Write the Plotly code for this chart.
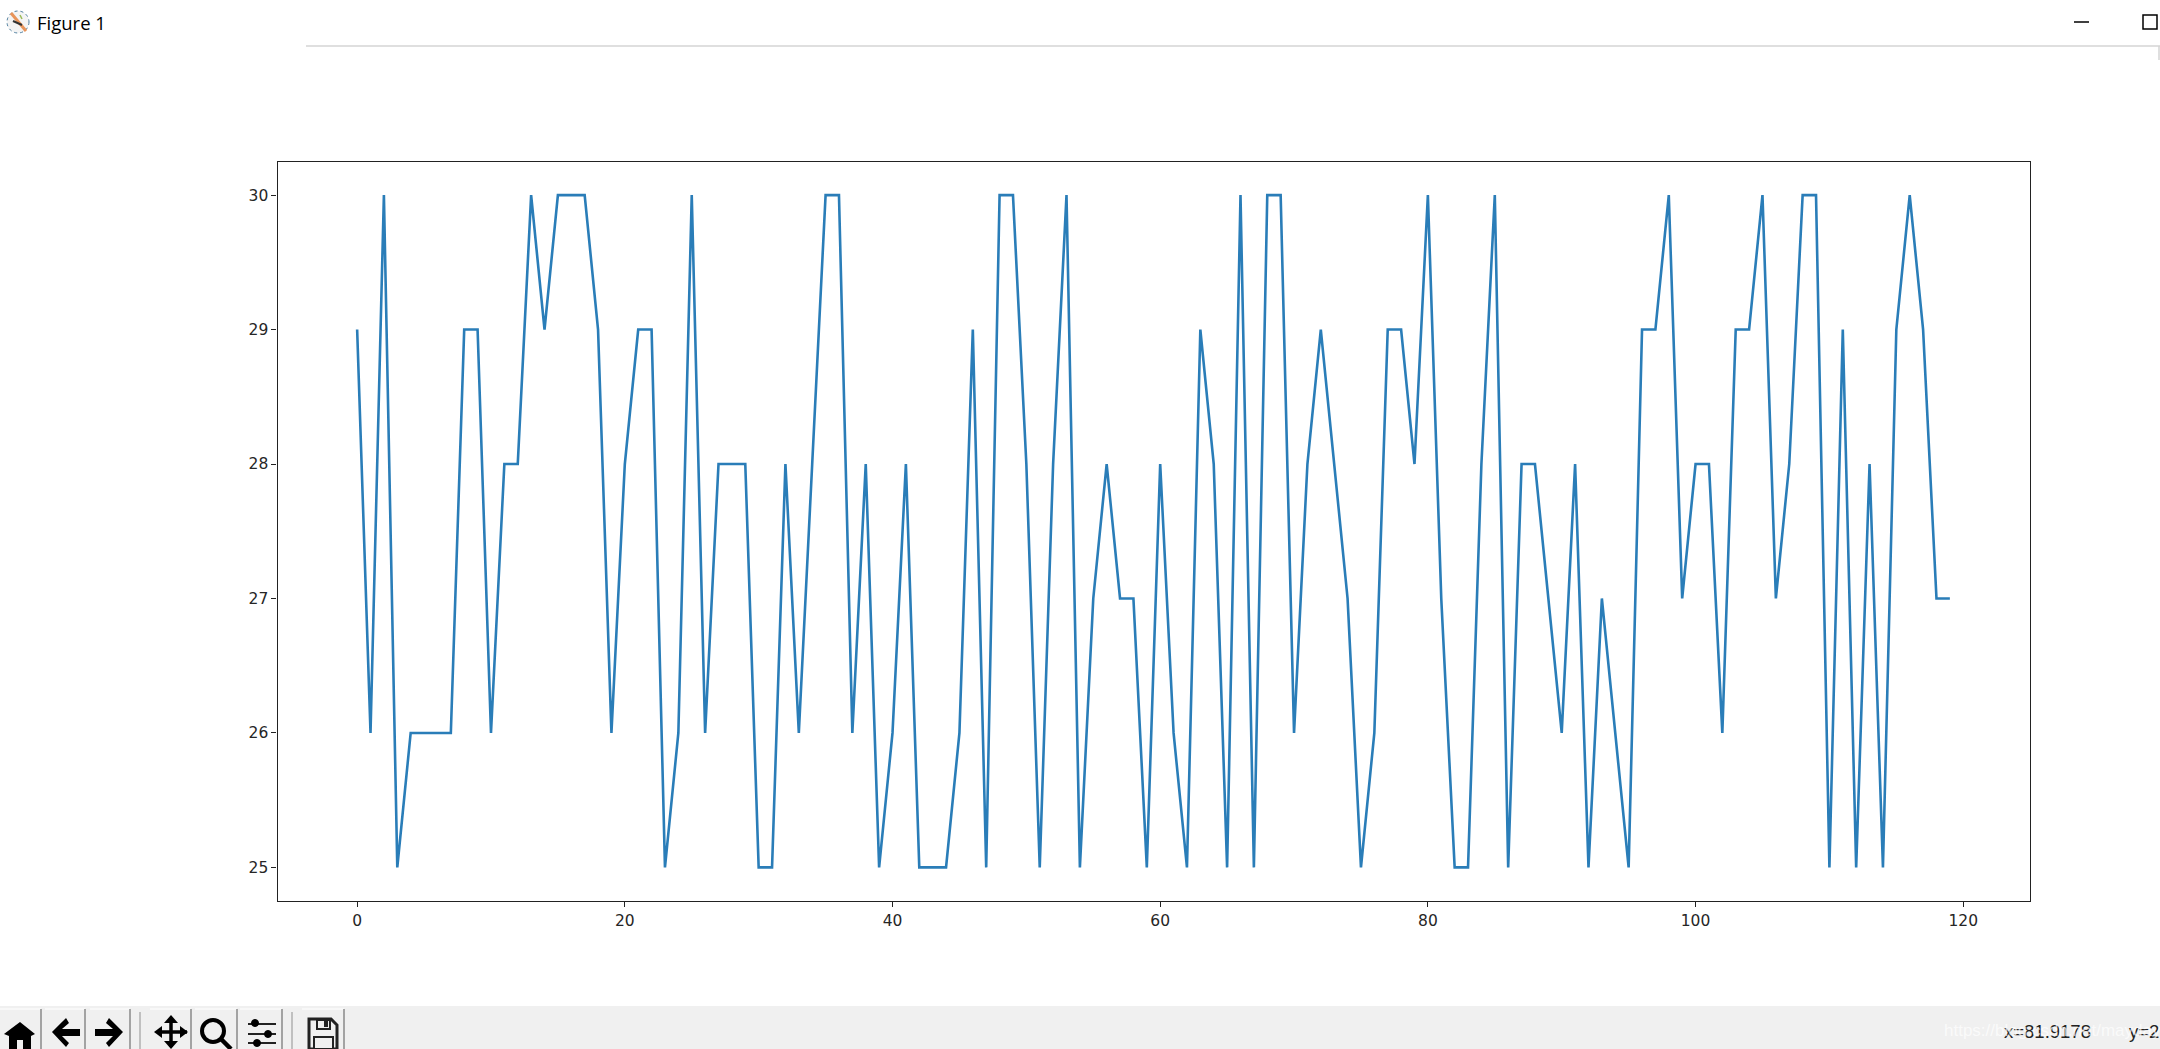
import plotly.graph_objects as go

W, H = 2160, 1049

sample_index = list(range(120))
temperature = [
    29, 26, 30, 25, 26, 26, 26, 26, 29, 29,
    26, 28, 28, 30, 29, 30, 30, 30, 29, 26,
    28, 29, 29, 25, 26, 30, 26, 28, 28, 28,
    25, 25, 28, 26, 28, 30, 30, 26, 28, 25,
    26, 28, 25, 25, 25, 26, 29, 25, 30, 30,
    28, 25, 28, 30, 25, 27, 28, 27, 27, 25,
    28, 26, 25, 29, 28, 25, 30, 25, 30, 30,
    26, 28, 29, 28, 27, 25, 26, 29, 29, 28,
    30, 27, 25, 25, 28, 30, 25, 28, 28, 27,
    26, 28, 25, 27, 26, 25, 29, 29, 30, 27,
    28, 28, 26, 29, 29, 30, 27, 28, 30, 30,
    25, 29, 25, 28, 25, 29, 30, 29, 27, 27,
]
x_ticks = [0, 20, 40, 60, 80, 100, 120]
y_ticks = [25, 26, 27, 28, 29, 30]
window_title = "Figure 1"
status_x = "x=81.9178"
status_y = "y=2"
watermark = "https://blog.csdn.net/mayday"


def px(x):
    return x / W


def py(y):
    return 1 - y / H


def path(points, close=True):
    body = " L ".join(f"{px(a):.5f},{py(b):.5f}" for a, b in points)
    return "M " + body + (" Z" if close else "")


def rect(x0, y0, x1, y1, fill=None, line=None, width=1):
    return dict(type="rect", xref="paper", yref="paper", layer="below",
                x0=px(x0), x1=px(x1), y0=py(y0), y1=py(y1),
                fillcolor=fill or "rgba(0,0,0,0)",
                line=dict(color=line or "rgba(0,0,0,0)", width=width if line else 0))


def seg(x0, y0, x1, y1, color="#000000", width=1):
    return dict(type="line", xref="paper", yref="paper", layer="below",
                x0=px(x0), x1=px(x1), y0=py(y0), y1=py(y1),
                line=dict(color=color, width=width))


def poly(points, fill="#000000", line=None, width=0, close=True):
    return dict(type="path", xref="paper", yref="paper", layer="below",
                path=path(points, close),
                fillcolor=fill if close else "rgba(0,0,0,0)",
                line=dict(color=line or fill, width=width))


def circle(cx, cy, r, fill=None, line="#000000", width=1, dash=None):
    return dict(type="circle", xref="paper", yref="paper", layer="below",
                x0=px(cx - r), x1=px(cx + r), y0=py(cy - r), y1=py(cy + r),
                fillcolor=fill or "rgba(0,0,0,0)",
                line=dict(color=line, width=width, dash=dash or "solid"))


shapes = [
    # window chrome
    seg(306, 46, 2160, 46, "#d4d4d4", 1.5),
    seg(2159, 46, 2159, 60, "#d4d4d4", 1.5),
    seg(2074, 22, 2089, 22, "#000000", 1.5),
    rect(2143, 15, 2157, 29, None, "#000000", 1.5),
    circle(18, 22, 11, "#f4f4f4", "#4f7f9f", 1, "dot"),
    seg(11, 13, 26, 31, "#e8945a", 3),
    seg(13, 21, 22, 25, "#333333", 2),
    seg(20, 15, 22, 19, "#9bbb59", 1.5),
    # toolbar band and buttons
    rect(0, 1006, W, H, "#f0f0f0"),
]
for x0, x1 in [(0, 41), (45, 85), (90, 130), (150, 191), (195, 237), (240, 282), (302, 344)]:
    shapes += [seg(x0, 1009, x1, 1009, "#fbfbfb", 1.5), seg(x1, 1009, x1, H, "#8a8a8a", 1.5)]
for x in (140, 292):
    shapes.append(seg(x, 1012, x, H, "#b0b0b0", 1.5))

# toolbar icons
shapes += [
    poly([(4, 1034), (20, 1022), (35, 1034), (31, 1036), (31, 1049), (23, 1049), (23, 1040),
          (17, 1040), (17, 1049), (9, 1049), (9, 1036)], "#000000"),
    poly([(52, 1032), (66, 1018), (69, 1023), (62, 1029), (80, 1029), (80, 1036), (62, 1036),
          (69, 1043), (66, 1047)], "#000000"),
    poly([(123, 1032), (109, 1018), (106, 1023), (113, 1029), (95, 1029), (95, 1036), (113, 1036),
          (106, 1043), (109, 1047)], "#000000"),
    seg(171, 1019, 171, 1047, "#000000", 3.5),
    seg(157, 1032, 187, 1032, "#000000", 3.5),
    poly([(171, 1015), (178, 1023), (164, 1023)], "#000000"),
    poly([(171, 1049), (178, 1041), (164, 1041)], "#000000"),
    poly([(154, 1032), (162, 1026), (162, 1038)], "#000000"),
    poly([(188, 1032), (180, 1026), (180, 1038)], "#000000"),
    circle(213, 1031, 11, None, "#000000", 4),
    seg(221, 1039, 231, 1049, "#000000", 4.5),
    seg(248, 1024, 276, 1024, "#222222", 2),
    seg(248, 1034, 276, 1034, "#222222", 2),
    seg(248, 1043, 276, 1043, "#222222", 2),
    circle(255, 1023, 3.5, "#000000", "#000000", 1),
    circle(268, 1034, 3.5, "#000000", "#000000", 1),
    circle(257, 1043, 3.5, "#000000", "#000000", 1),
    poly([(309, 1019), (331, 1019), (337, 1025), (337, 1049), (309, 1049)], "#f0f0f0", "#222222", 3),
    rect(317, 1020, 330, 1029, "#f0f0f0", "#222222", 2),
    rect(324, 1021, 328, 1027, "#222222"),
    rect(314, 1037, 333, 1049, "#f0f0f0", "#222222", 2),
]


def note(x, y, text, font, color, size, opacity=1.0):
    return dict(xref="paper", yref="paper", x=px(x), y=py(y), text=text, showarrow=False,
                xanchor="left", yanchor="middle", opacity=opacity,
                font=dict(family=font, size=size, color=color))


annotations = [
    note(35, 22, window_title, "Open Sans, Noto Sans, sans-serif", "#000000", 18.5),
    note(2002, 1031, status_x, "Liberation Sans, Arial, sans-serif", "#222222", 18.5),
    note(2127, 1031, status_y, "Liberation Sans, Arial, sans-serif", "#222222", 18.5),
    note(1942, 1030, watermark, "Liberation Sans, Arial, sans-serif", "#ffffff", 17, 0.7),
]

fig = go.Figure(
    go.Scatter(x=sample_index, y=temperature, mode="lines",
               line=dict(color="#2a7db8", width=2.6), hoverinfo="skip", showlegend=False)
)

axis_common = dict(
    showgrid=False, zeroline=False, showline=True, mirror=True,
    linecolor="#222222", linewidth=1.2,
    ticks="outside", ticklen=5, tickwidth=1, tickcolor="#222222",
    tickfont=dict(family="DejaVu Sans", size=15.5, color="#262626"),
)

fig.update_layout(
    width=W, height=H, autosize=False,
    margin=dict(l=0, r=0, t=0, b=0, pad=0),
    paper_bgcolor="#ffffff", plot_bgcolor="#ffffff",
    showlegend=False,
    xaxis=dict(domain=[px(277.5), px(2029.5)], range=[-5.95, 124.95],
               tickmode="array", tickvals=x_ticks, **axis_common),
    yaxis=dict(domain=[py(901), py(161.5)], range=[24.75, 30.25],
               tickmode="array", tickvals=y_ticks, **axis_common),
    shapes=shapes,
    annotations=annotations,
)

fig.write_html(
    "out.html",
    config=dict(displayModeBar=False),
    post_script="document.body.style.margin='0';document.body.style.overflow='hidden';",
)
